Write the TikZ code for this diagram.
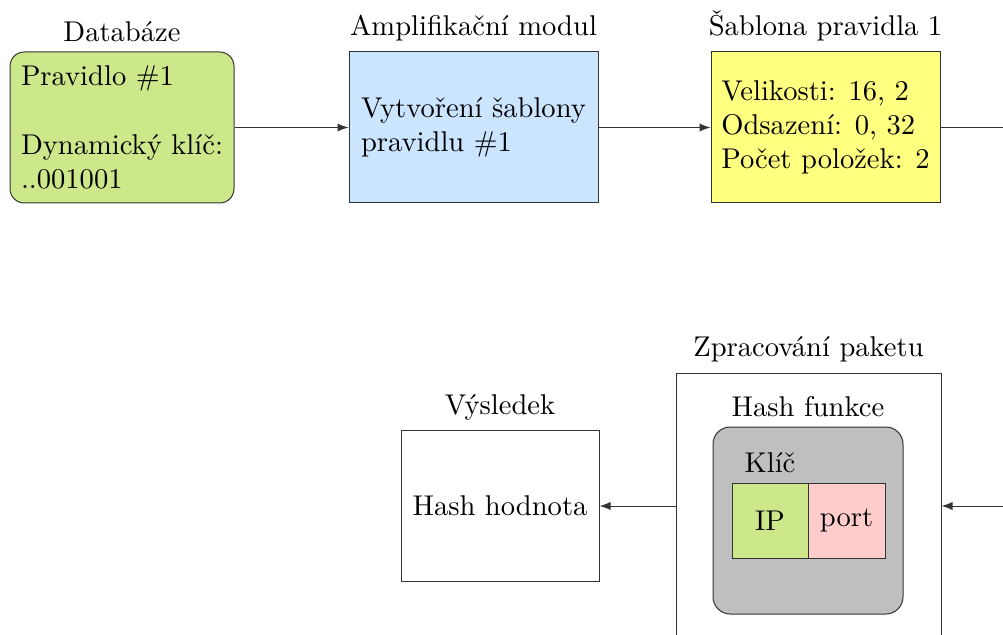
\documentclass[tikz,border=0pt]{standalone}
\usetikzlibrary{arrows}
\definecolor{dbgreen}{RGB}{205,231,139}
\definecolor{ampblue}{RGB}{204,229,255}
\definecolor{tplyellow}{RGB}{255,255,128}
\definecolor{keygray}{RGB}{191,191,191}
\definecolor{portpink}{RGB}{255,204,204}
\colorlet{edge}{black!80}
\tikzset{
  box/.style={draw=edge, rectangle, align=left, minimum height=52.85pt},
  roundbox/.style={box, rounded corners=5pt},
  flow/.style={draw=edge, -latex},
  plainline/.style={draw=edge},
  field/.style={draw=edge, rectangle, minimum width=26.6pt, minimum height=26.25pt, inner sep=0pt}
}
\begin{document}
\begin{tikzpicture}[x=0.35pt, y=-0.35pt, line width=0.35pt]
  \clip (0,0) rectangle (1003,635);

  % top row: database, amplification module, rule template
  \node[roundbox, fill=dbgreen, minimum width=78.4pt, label={above:Databáze}] (db) at (122,127.5)
    {Pravidlo \#1\\[\baselineskip]Dynamický klíč:\\..001001};
  \node[box, fill=ampblue, minimum width=87.15pt, label={above:Amplifikační modul}] (amp) at (473.5,127.5)
    {Vytvoření šablony\\pravidlu \#1};
  \node[box, fill=tplyellow, minimum width=80.15pt, label={above:Šablona pravidla 1}] (tpl) at (825.5,127.5)
    {Velikosti: 16, 2\\Odsazení: 0, 32\\Počet položek: 2};

  % bottom row: packet processing and result
  \node[box, fill=white, minimum width=92.75pt, minimum height=93.1pt, label={above:Zpracování paketu}] (proc) at (808.5,506) {};
  \node[box, fill=keygray, rounded corners=6pt, minimum width=66.5pt, minimum height=65.45pt, label={above:Hash funkce}] (hash) at (808,520.5) {};
  \node[field, fill=dbgreen, label={above:Klíč}] (ip) at (770,520.5) {IP};
  \node[field, fill=portpink, minimum width=26.95pt] (port) at (846.5,520.5) {port};
  \node[box, fill=white, align=center, minimum width=69.3pt, label={above:Výsledek}] (res) at (500,506) {Hash hodnota};

  % off-page ends of the loop
  \coordinate (outtop) at (1030,127.5);
  \coordinate (inbottom) at (1030,506);

  \draw[flow] (db.east) -- (amp.west);
  \draw[flow] (amp.east) -- (tpl.west);
  \draw[plainline] (tpl.east) -- (outtop);
  \draw[flow] (inbottom) -- (proc.east);
  \draw[flow] (proc.west) -- (res.east);
\end{tikzpicture}
\end{document}
